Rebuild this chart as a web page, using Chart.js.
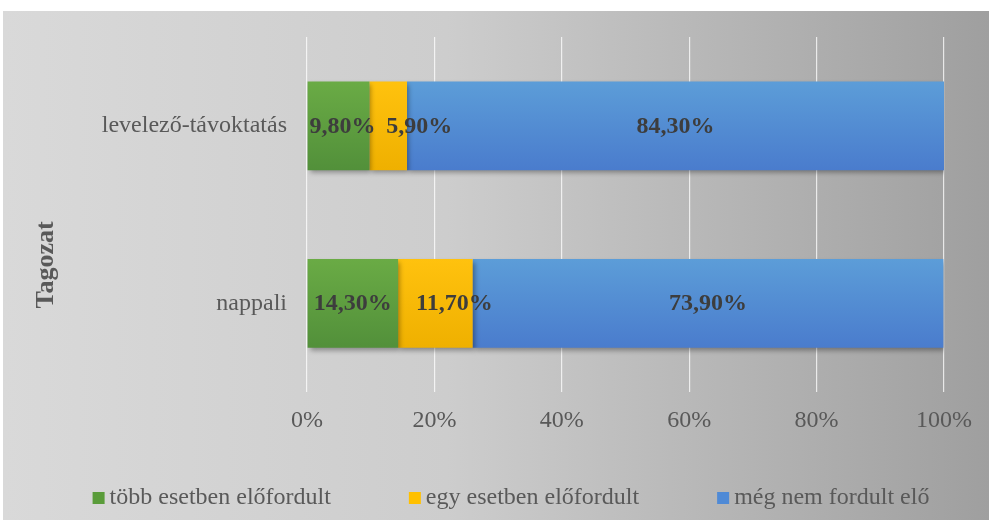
<!DOCTYPE html>
<html>
<head>
<meta charset="utf-8">
<script src="https://cdn.jsdelivr.net/npm/chart.js@4"></script>
<style>
html,body{margin:0;padding:0;background:#fff;}
#wrap{width:989px;height:520px;position:relative;}
</style>
</head>
<body>
<div id="wrap"><canvas id="c" width="989" height="520"></canvas></div>
<script>
const categories = ['levelező-távoktatás', 'nappali'];
const seriesNames = ['több esetben előfordult', 'egy esetben előfordult', 'még nem fordult elő'];
const tobbEsetben = [9.8, 14.3];
const egyEsetben = [5.9, 11.7];
const megNem = [84.3, 73.9];
const xTickLabels = ['0%', '20%', '40%', '60%', '80%', '100%'];
const axisTitle = 'Tagozat';

const SERIF = '"Liberation Serif", "DejaVu Serif", serif';
const colorsTop = ['#6aab45', '#ffc20e', '#5c9dd8'];
const colorsBot = ['#52903a', '#efb000', '#4a7ccd'];
const legendColors = ['#5a9c3a', '#ffc000', '#4f8ad6'];
// horizontal nudges of value labels that do not fit in their segment (style only)
const labelNudge = [[4, 0], [31, 19], [0, 0]];

function barFill(i) {
  return function(ctx) {
    const chart = ctx.chart;
    const ys = chart.scales.y;
    if (!ys || ctx.dataIndex === undefined || ys.top === undefined) return colorsTop[i];
    const c = ys.getPixelForValue(ctx.dataIndex);
    const half = (ys.height / categories.length) * 0.5 / 2;
    if (!isFinite(c)) return colorsTop[i];
    const g = chart.ctx.createLinearGradient(0, c - half, 0, c + half);
    g.addColorStop(0, colorsTop[i]);
    g.addColorStop(1, colorsBot[i]);
    return g;
  };
}

const bgPlugin = {
  id: 'bg',
  beforeDraw(chart) {
    const ctx = chart.ctx;
    ctx.save();
    ctx.fillStyle = '#ffffff';
    ctx.fillRect(0, 0, chart.width, chart.height);
    const g = ctx.createLinearGradient(3, 0, chart.width, 0);
    g.addColorStop(0, '#d9d9d9');
    g.addColorStop(0.45, '#cdcdcd');
    g.addColorStop(1, '#9f9f9f');
    ctx.fillStyle = g;
    ctx.fillRect(3, 11, chart.width - 3, chart.height - 11);
    // axis title centered on full chart height
    ctx.translate(46, 265);
    ctx.rotate(-Math.PI / 2);
    ctx.fillStyle = '#595959';
    ctx.font = 'bold 26px ' + SERIF;
    ctx.textAlign = 'center';
    ctx.textBaseline = 'middle';
    ctx.fillText(axisTitle, 0, 0);
    ctx.restore();
  },
  afterDraw(chart) {
    // legend
    const ctx = chart.ctx;
    ctx.save();
    ctx.font = '24px ' + SERIF;
    const box = 12, gapBT = 5, gapItems = 78;
    const widths = seriesNames.map(n => ctx.measureText(n).width);
    const total = widths.reduce((a, w) => a + box + gapBT + w, 0) + gapItems * (seriesNames.length - 1);
    let x = 511 - total / 2;
    const yc = 498;
    ctx.textBaseline = 'middle';
    ctx.textAlign = 'left';
    seriesNames.forEach((n, i) => {
      ctx.fillStyle = legendColors[i];
      ctx.fillRect(x, yc - 6, box, box);
      ctx.fillStyle = '#595959';
      ctx.fillText(n, x + box + gapBT, yc);
      x += box + gapBT + widths[i] + gapItems;
    });
    ctx.restore();
  }
};

const shadowPlugin = {
  id: 'shadow',
  beforeDatasetsDraw(chart) {
    const ctx = chart.ctx;
    ctx.save();
    ctx.shadowColor = 'rgba(0,0,0,0.35)';
    ctx.shadowBlur = 5;
    ctx.shadowOffsetX = 2;
    ctx.shadowOffsetY = 3;
  },
  afterDatasetsDraw(chart) {
    chart.ctx.restore();
  }
};

const labelPlugin = {
  id: 'vals',
  afterDatasetsDraw(chart) {
    const ctx = chart.ctx;
    ctx.save();
    ctx.font = 'bold 24px ' + SERIF;
    ctx.fillStyle = '#3d3d3d';
    ctx.textAlign = 'center';
    ctx.textBaseline = 'middle';
    chart.data.datasets.forEach((ds, di) => {
      const meta = chart.getDatasetMeta(di);
      meta.data.forEach((el, i) => {
        const v = ds.data[i];
        const txt = v.toFixed(2).replace('.', ',') + '%';
        const x = (el.x + el.base) / 2 + labelNudge[di][i];
        ctx.fillText(txt, x, el.y + 1);
      });
    });
    ctx.restore();
  }
};

new Chart(document.getElementById('c'), {
  type: 'bar',
  data: {
    labels: categories,
    datasets: [
      { label: seriesNames[0], data: tobbEsetben, backgroundColor: barFill(0) },
      { label: seriesNames[1], data: egyEsetben, backgroundColor: barFill(1) },
      { label: seriesNames[2], data: megNem, backgroundColor: barFill(2) }
    ]
  },
  options: {
    indexAxis: 'y',
    responsive: false,
    animation: false,
    devicePixelRatio: 1,
    layout: { padding: { left: 0, right: 45, top: 37, bottom: 78 } },
    datasets: { bar: { categoryPercentage: 1.0, barPercentage: 0.5, borderWidth: 0 } },
    scales: {
      x: {
        stacked: true,
        min: 0, max: 100,
        ticks: {
          stepSize: 20,
          padding: 14,
          color: '#595959',
          font: { family: SERIF, size: 24 },
          callback: (v, i) => xTickLabels[i]
        },
        grid: { color: 'rgba(255,255,255,0.75)', lineWidth: 1.2, drawTicks: false },
        border: { display: false },
        afterFit(s) { s.height = 50; }
      },
      y: {
        stacked: true,
        ticks: {
          padding: 20,
          color: '#595959',
          font: { family: SERIF, size: 24 }
        },
        grid: { display: false, drawTicks: false },
        border: { display: false },
        afterFit(s) { s.width = 307; }
      }
    },
    plugins: {
      legend: { display: false },
      tooltip: { enabled: false },
      title: { display: false }
    }
  },
  plugins: [bgPlugin, shadowPlugin, labelPlugin]
});
</script>
</body>
</html>
